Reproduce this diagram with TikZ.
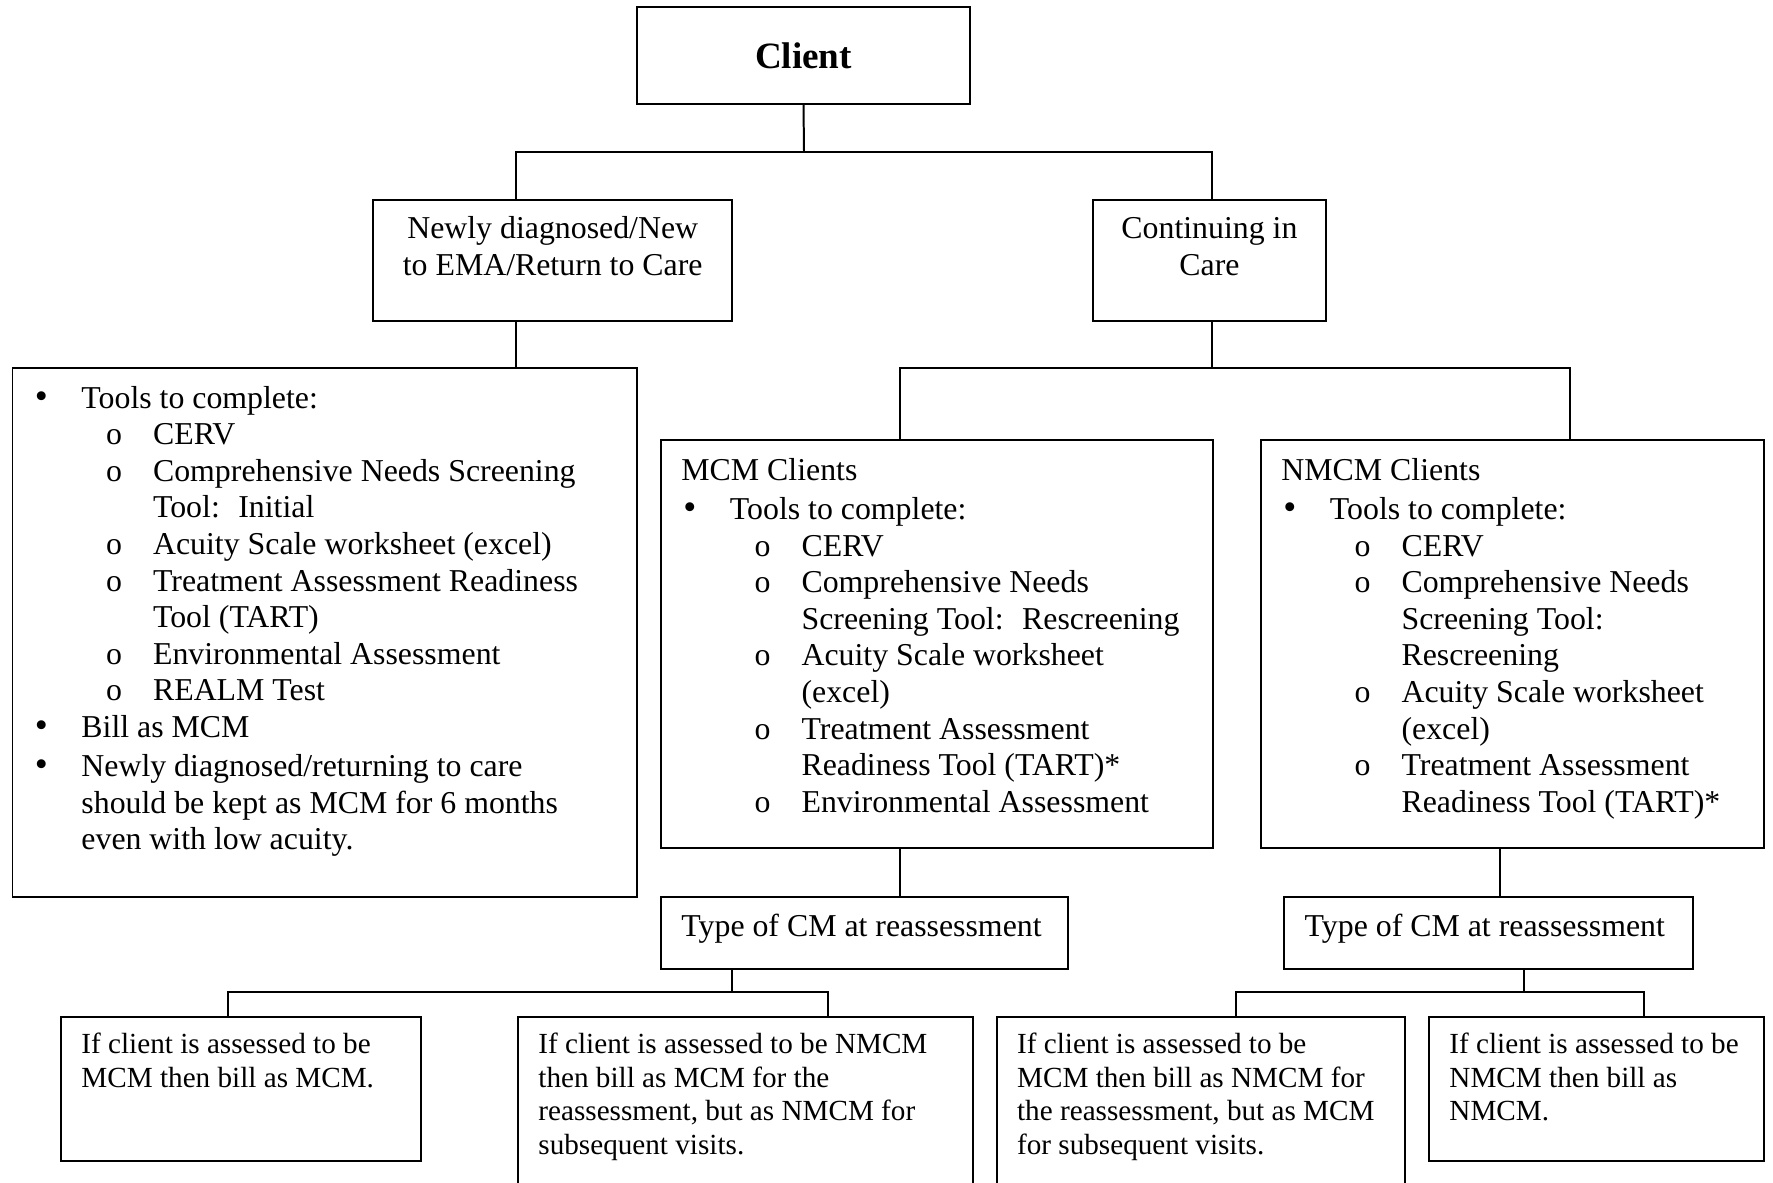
\documentclass[tikz,border=0pt]{standalone}
\usepackage{fontspec}
\setmainfont{Liberation Serif}
\newcommand\bitem[1]{{\leftskip=26pt\noindent\llap{\makebox[17.6pt][l]{\fontsize{14}{14}\selectfont\textbullet}}#1\par}}
\newcommand\oitem[1]{{\leftskip=53pt\noindent\llap{\makebox[17.7pt][l]{o}}#1\par}}
\newcommand\lpad{\leftskip=7.7pt\relax}
\begin{document}
\begin{tikzpicture}[x=0.377pt,y=-0.377pt,line width=0.75pt,
        box/.style={draw,inner sep=0pt,anchor=north west,align=flush left,
            font=\fontsize{12}{13.8}\selectfont},
        note/.style={box,font=\fontsize{11}{12.65}\selectfont,text height=13.8pt}]
        \useasboundingbox (0,0) rectangle (1773,1183);
        \clip (0,0) rectangle (1773,1183);
        %===========================================
        \node[draw,inner sep=0pt,minimum width=125.5pt,minimum height=36.6pt,
            font=\fontsize{14}{16}\selectfont\bfseries] (cli) at (803.5,55.5) {Client};
        \node[box,align=flush center,text width=135.5pt,text height=14.5pt,text depth=31pt]
            (new) at (372,199.3) {Newly diagnosed/New\\to EMA/Return to Care};
        \node[box,align=flush center,text width=87.8pt,text height=14.5pt,text depth=31pt]
            (cont) at (1092,199.3) {Continuing in\\Care};
        \node[box,text width=235.4pt,text height=15pt,text depth=184.2pt] (ema) at (11.5,367.3) {%
            \bitem{Tools to complete:}
            \oitem{CERV}
            \oitem{Comprehensive Needs Screening\\Tool:~ Initial}
            \oitem{Acuity Scale worksheet (excel)}
            \oitem{Treatment Assessment Readiness\\Tool (TART)}
            \oitem{Environmental Assessment}
            \oitem{REALM Test}
            \bitem{Bill as MCM}
            \vskip1pt
            \bitem{Newly diagnosed/returning to care\\should be kept as MCM for 6 months\\even with low acuity.}};
        \node[box,text width=208.1pt,text height=15pt,text depth=138.7pt] (mcm) at (660,439.5) {%
            {\lpad MCM Clients\par}
            \vskip1pt
            \bitem{Tools to complete:}
            \oitem{CERV}
            \oitem{Comprehensive Needs\\Screening Tool:~ Rescreening}
            \oitem{Acuity Scale worksheet\\(excel)}
            \oitem{Treatment Assessment\\Readiness Tool (TART)*}
            \oitem{Environmental Assessment}};
        \node[box,text width=189.6pt,text height=15pt,text depth=138.7pt] (nmcm) at (1260,439.5) {%
            {\lpad NMCM Clients\par}
            \vskip1pt
            \bitem{Tools to complete:}
            \oitem{CERV}
            \oitem{Comprehensive Needs\\Screening Tool:\\Rescreening}
            \oitem{Acuity Scale worksheet\\(excel)}
            \oitem{Treatment Assessment\\Readiness Tool (TART)*}};
        \node[box,text width=153.6pt,text height=15pt,text depth=12pt] (typl) at (660,896)
            {{\lpad Type of CM at reassessment\par}};
        \node[box,text width=153.9pt,text height=15pt,text depth=12pt] (typr) at (1283.3,896)
            {{\lpad Type of CM at reassessment\par}};
        \node[note,text width=135.7pt,text depth=40.5pt] (bmm) at (60,1016)
            {{\lpad If client is assessed to be\\MCM then bill as MCM.\par}};
        \node[note,text width=171.5pt,text depth=61.6pt] (bmn) at (517,1016)
            {{\lpad If client is assessed to be NMCM\\then bill as MCM for the\\reassessment, but as NMCM for\\subsequent visits.\par}};
        \node[note,text width=153.8pt,text depth=61.6pt] (bnm) at (995.7,1016)
            {{\lpad If client is assessed to be\\MCM then bill as NMCM for\\the reassessment, but as MCM\\for subsequent visits.\par}};
        \node[note,text width=126.3pt,text depth=40.5pt] (bnn) at (1428,1016)
            {{\lpad If client is assessed to be\\NMCM then bill as\\NMCM.\par}};
        %===========================================
        \coordinate (j1) at (804,151.7);
        \coordinate (j2) at (1212,368);
        \coordinate (j3) at (732,991.5);
        \coordinate (j4) at (1524,991.5);
        \draw (cli.south) -- (j1);
        \draw (new.north -| 516,0) |- (j1) -| (cont.north -| 1212,0);
        \draw (new.south -| 516,0) -- (ema.north -| 516,0);
        \draw (cont.south -| 1212,0) -- (j2);
        \draw (mcm.north -| 900,0) |- (j2) -| (nmcm.north -| 1570,0);
        \draw (mcm.south -| 900,0) -- (typl.north -| 900,0);
        \draw (nmcm.south -| 1500,0) -- (typr.north -| 1500,0);
        \draw (typl.south -| 732,0) -- (j3);
        \draw (bmm.north -| 228,0) |- (j3) -| (bmn.north -| 828,0);
        \draw (typr.south -| 1524,0) -- (j4);
        \draw (bnm.north -| 1236,0) |- (j4) -| (bnn.north -| 1644,0);
\end{tikzpicture}
\end{document}
